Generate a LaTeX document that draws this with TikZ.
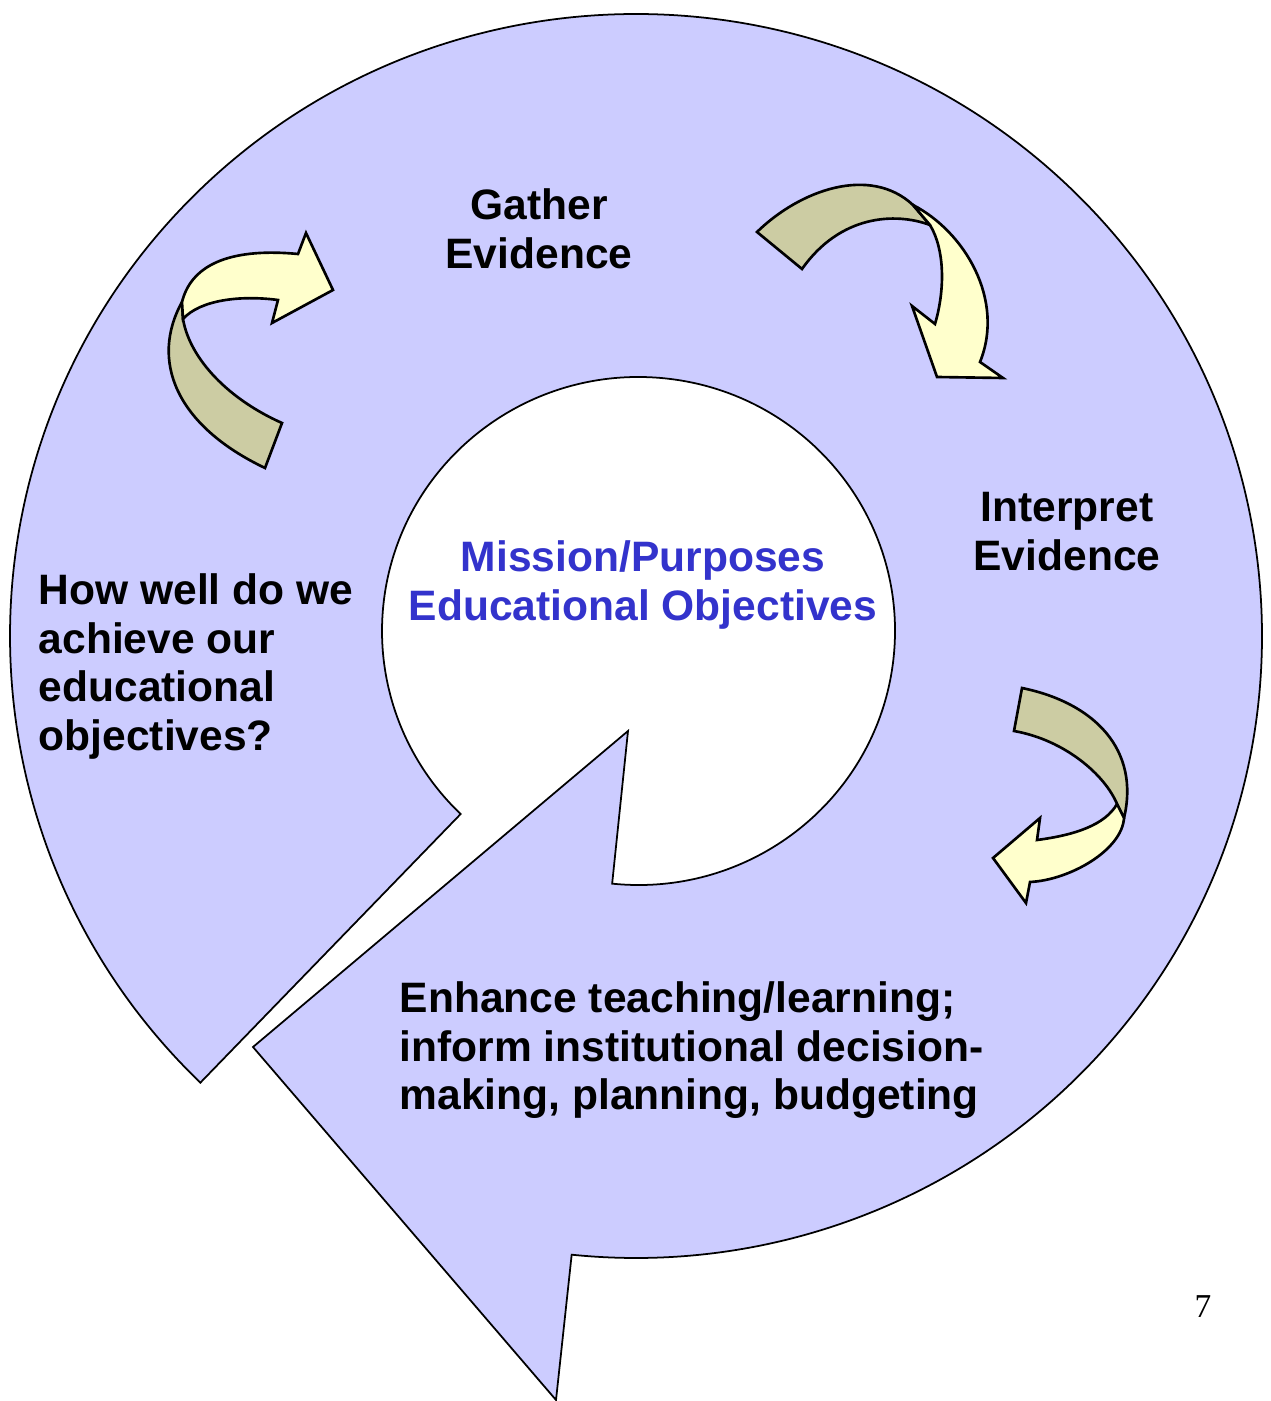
\documentclass[tikz,border=0pt]{standalone}
\usepackage{fontspec}
\setmainfont{Liberation Sans}
\newfontfamily\pagenumfont{Liberation Serif}
\definecolor{ringfill}{HTML}{CCCCFF}
\definecolor{tanfill}{HTML}{CCCCA3}
\definecolor{yelfill}{HTML}{FFFFCC}
\definecolor{missionblue}{HTML}{3333CC}
\tikzset{
  ring/.style={fill=ringfill, draw=black, line width=0.5pt, line join=miter},
  tanpart/.style={fill=tanfill, draw=black, line width=0.75pt, line join=miter},
  yelpart/.style={fill=yelfill, draw=black, line width=0.75pt, line join=miter},
  lbl/.style={font=\fontsize{12.1}{13.8}\selectfont\bfseries, align=center, inner sep=0pt},
  lbll/.style={font=\fontsize{12.1}{13.8}\selectfont\bfseries, align=left, inner sep=0pt}
}
\begin{document}
\begin{tikzpicture}[x=0.01cm,y=-0.01cm]
\useasboundingbox[fill=white] (0,0) rectangle (1271,1401);

% main circular arrow
\path (636,636) ++(134.1:626 and 622) coordinate (o1);
\path (638.5,631) ++(95.9:256.5 and 254) coordinate (i0);
\coordinate (hb) at (556,1400);
\coordinate (ht) at (253,1047);
\coordinate (ha) at (628,731);
\draw[ring] (o1) arc[start angle=134.1,end angle=455.9,x radius=626,y radius=622]
  -- (hb) -- (ht) -- (ha) -- (i0)
  arc[start angle=95.9,end angle=-226.1,x radius=256.5,y radius=254] -- cycle;

% arrow 1 (top left)
\draw[tanpart] (182,302) .. controls (150,360) and (175,425) .. (265,468)
  -- (282,423) .. controls (230,400) and (190,360) .. (183,319) -- cycle;
\draw[yelpart] (182,302) .. controls (192,262) and (235,248) .. (298,254)
  -- (306,233) -- (333,290) -- (272,323) -- (278,300)
  .. controls (240,295) and (200,300) .. (183,319) -- cycle;

% arrow 2 (top right)
\draw[tanpart] (757,232) .. controls (800,190) and (870,165) .. (913,205)
  -- (930,225) .. controls (895,212) and (840,215) .. (802,269) -- cycle;
\draw[yelpart] (913,205) .. controls (965,232) and (1005,300) .. (980,362)
  -- (1003,378) -- (937,377) -- (912,306) -- (935,324)
  .. controls (945,290) and (945,250) .. (930,225) -- cycle;

% arrow 3 (right)
\draw[tanpart] (1022,688) .. controls (1095,703) and (1140,750) .. (1124,818)
  -- (1117,804) .. controls (1105,775) and (1065,740) .. (1014,731) -- cycle;
\draw[yelpart] (1124,818) .. controls (1122,850) and (1070,880) .. (1030,882)
  -- (1026,903) -- (993,858) -- (1040,818) -- (1037,840)
  .. controls (1075,835) and (1105,825) .. (1117,804) -- cycle;

% labels
\node[lbl, anchor=north] (gather) at (539,188) {Gather\\Evidence};
\node[lbl, anchor=north] (interp) at (1067,492) {Interpret\\Evidence};
\node[lbl, anchor=north, text=missionblue] (mission) at (643,540) {Mission/Purposes\\Educational Objectives};
\node[lbll, anchor=north west] (howwell) at (38,573) {How well do we\\achieve our\\educational\\objectives?};
\node[lbll, anchor=north west] (enhance) at (399,981) {Enhance teaching/learning;\\inform institutional decision-\\making, planning, budgeting};
\node[font=\pagenumfont\fontsize{9.5}{11}\selectfont, anchor=north, inner sep=0pt] (pagenum) at (1203,1295) {7};
\end{tikzpicture}
\end{document}
